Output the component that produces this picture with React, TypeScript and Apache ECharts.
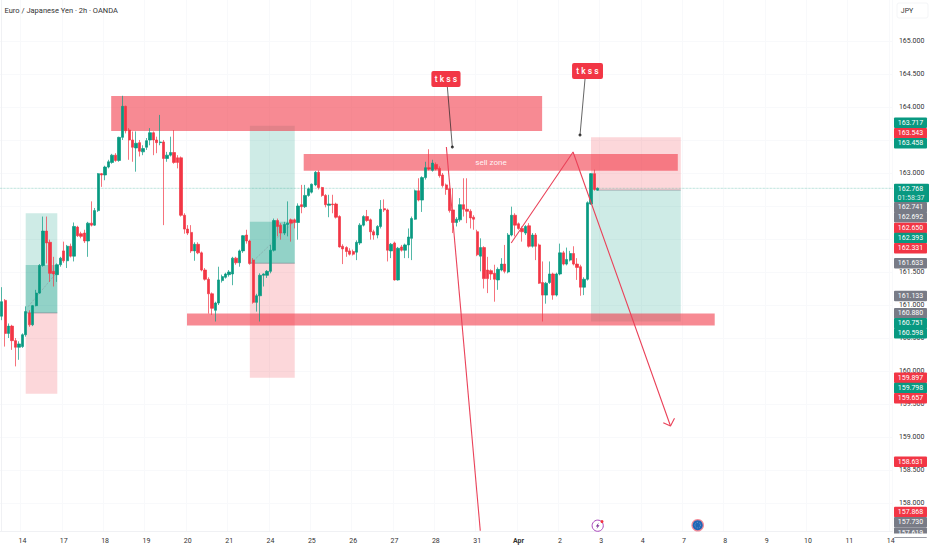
import React, { useEffect, useRef } from "react";
import * as echarts from "echarts";

// Day labels on the time axis: one label every 12 two-hour bars
const dayLabels = ["14","17","18","19","20","21","24","25","26","27","28","31","Apr","2","3","4","7","8","9","10","11","14"];
const priceTicks = [165,164.5,164,163.5,163,162.5,162,161.5,161,160.5,160,159.5,159,158.5,158];
const priceLabels = [165,164.5,164,163,161.5,161,160.5,160,159.5,159,158.5,158];

// [open, close, low, high]
const candles: number[][] = [
[160.83,161.05,160.77,161.27],[161.07,160.57,160.37,161.09],[160.57,160.68,160.50,160.72],[160.68,160.46,160.32,160.70],
[160.46,160.36,160.07,160.50],[160.36,160.41,160.17,160.45],[160.37,160.55,160.35,160.57],[160.55,160.90,160.52,160.98],
[160.88,160.70,160.67,160.92],[160.70,160.99,160.68,161.00],[160.99,161.18,160.98,161.23],[161.18,161.60,161.17,161.62],
[161.60,162.12,161.58,162.34],[162.12,161.94,161.63,162.34],[161.95,161.48,161.35,161.99],[161.51,161.47,161.28,161.73],
[161.46,161.61,161.35,161.63],[161.61,161.71,161.58,161.73],[161.82,161.67,161.64,161.96],[161.67,161.89,161.56,161.91],
[161.89,161.74,161.72,161.93],[161.74,162.19,161.66,162.25],[162.18,162.05,162.03,162.20],[162.08,162.04,162.01,162.11],
[162.09,161.97,161.94,162.14],[161.97,162.24,161.73,162.26],[162.24,162.21,162.19,162.57],[162.21,162.43,162.20,162.47],
[162.43,162.99,162.41,163.00],[162.99,162.97,162.79,163.00],[162.97,163.09,162.89,163.11],[163.09,163.17,163.07,163.20],
[163.16,163.27,163.14,163.29],[163.27,163.19,163.17,163.30],[163.19,163.54,163.17,163.55],[163.54,164.01,163.50,164.17],
[164.01,163.64,163.60,164.02],[163.65,163.50,163.20,163.68],[163.50,163.39,163.17,163.63],[163.38,163.45,163.02,163.63],
[163.46,163.33,163.25,163.50],[163.32,163.37,163.27,163.42],[163.39,163.49,163.35,163.53],[163.50,163.61,163.42,163.68],
[163.61,163.50,163.27,163.63],[163.50,163.46,163.30,163.55],[163.46,163.47,163.42,163.88],[163.47,163.22,162.21,163.50],
[163.22,163.27,163.17,163.32],[163.27,163.31,163.25,163.55],[163.31,163.16,163.14,163.65],[163.23,163.16,163.07,163.27],
[163.23,162.36,162.34,163.25],[162.36,162.15,162.08,162.39],[162.15,162.09,162.06,162.21],[162.10,161.82,161.79,162.21],
[161.82,161.92,161.67,161.95],[161.92,161.79,161.77,161.95],[161.79,161.53,161.51,161.81],[161.53,161.39,161.37,161.56],
[161.39,161.17,160.87,161.42],[161.17,160.95,160.85,161.19],[160.92,161.03,160.75,161.05],[161.03,161.38,161.00,161.58],
[161.37,161.43,161.34,161.46],[161.42,161.47,161.40,161.49],[161.46,161.50,161.43,161.53],[161.47,161.71,161.30,161.73],
[161.71,161.64,161.61,161.73],[161.64,161.82,161.58,161.84],[161.82,162.05,161.79,162.06],[162.06,161.97,161.93,162.14],
[161.97,161.63,161.61,161.99],[161.68,161.04,161.02,161.71],[161.04,161.14,160.90,161.17],[161.14,161.45,160.75,161.48],
[161.45,161.47,161.28,161.48],[161.45,161.51,161.41,161.53],[161.51,161.83,161.48,161.91],[161.83,162.28,161.81,162.31],
[162.28,162.19,162.04,162.31],[162.21,162.09,161.99,162.24],[162.09,162.22,162.06,162.26],[162.22,162.24,162.04,162.57],
[162.29,162.24,161.96,162.31],[162.29,162.25,162.16,162.31],[162.25,162.50,161.99,162.54],[162.52,162.49,162.39,162.82],
[162.49,162.66,162.47,162.82],[162.66,162.76,162.64,162.78],[162.71,162.83,162.69,162.84],[162.82,163.01,162.80,163.03],
[163.01,162.78,162.75,163.04],[162.78,162.66,162.64,162.79],[162.66,162.52,162.48,162.68],[162.51,162.53,162.33,162.67],
[162.53,162.52,162.39,162.67],[162.53,162.33,162.31,162.55],[162.34,161.88,161.87,162.36],[161.89,161.85,161.62,161.92],
[161.87,161.81,161.73,161.89],[161.82,161.77,161.75,161.86],[161.81,161.77,161.75,161.84],[161.80,161.95,161.68,161.98],
[161.94,162.21,161.91,162.24],[162.21,162.34,162.19,162.36],[162.34,162.28,162.26,162.44],[162.29,162.11,161.99,162.31],
[162.11,162.06,161.99,162.14],[162.06,162.19,162.01,162.21],[162.19,162.45,162.16,162.59],[162.46,162.44,162.41,162.60],
[162.44,161.83,161.66,162.46],[161.82,161.92,161.71,161.94],[161.94,161.38,161.37,161.96],[161.38,161.86,161.37,161.88],
[161.88,161.83,161.81,161.91],[161.83,161.91,161.71,161.93],[161.91,162.03,161.71,162.16],[162.01,162.31,161.68,162.34],
[162.30,162.73,162.29,162.75],[162.73,162.59,162.57,162.92],[162.59,162.93,162.41,162.95],[162.93,163.08,162.90,163.17],
[163.08,163.06,163.04,163.36],[163.04,163.15,163.02,163.20],[163.13,163.06,163.04,163.16],[163.07,162.96,162.93,163.10],
[162.97,162.81,162.78,163.00],[162.82,162.75,162.67,162.84],[162.76,162.43,162.40,162.78],[162.44,162.25,162.09,162.77],
[162.25,162.30,162.19,162.33],[162.29,162.52,162.26,162.62],[162.52,162.45,162.34,162.92],[162.45,162.42,162.24,162.92],
[162.42,162.32,162.16,162.45],[162.33,162.30,162.14,162.36],[162.11,161.76,161.74,162.14],[161.74,161.87,161.51,162.01],
[161.87,161.40,161.25,161.89],[161.53,161.40,161.18,161.73],[161.52,161.47,161.38,161.54],[161.48,161.39,161.05,161.61],
[161.38,161.54,161.23,161.57],[161.53,161.62,161.51,161.71],[161.62,161.51,161.48,161.91],[161.50,162.06,161.48,162.09],
[162.06,162.36,162.04,162.49],[162.36,162.21,162.04,162.39],[162.23,162.16,162.14,162.25],[162.16,162.11,161.96,162.19],
[162.09,162.19,162.06,162.21],[162.20,161.89,161.87,162.24],[161.89,162.06,161.87,162.09],[162.06,161.89,161.68,162.09],
[161.91,161.33,161.32,161.93],[161.34,161.15,160.75,161.66],[161.15,161.33,161.02,161.35],[161.34,161.47,161.32,161.66],
[161.47,161.15,161.08,161.49],[161.15,161.47,161.13,161.49],[161.47,161.79,161.45,161.93],[161.79,161.62,161.60,161.82],
[161.62,161.69,161.60,161.87],[161.68,161.78,161.66,161.82],[161.78,161.62,161.60,161.89],[161.62,161.57,161.38,161.71],
[161.58,161.27,161.14,161.61],[161.27,161.39,161.15,161.42],[161.39,162.55,161.37,162.57],[162.53,162.99,162.52,163.00],
[162.99,162.75,162.73,163.05],[162.74,162.77,162.73,162.78],
];
const lastPrice = 162.768;

// Drawn zones: [first bar, last bar, top price, bottom price]
const supplyZones = [[31.77,156.84,164.167,163.636],[87.64,196.22,163.288,163.035],[53.77,206.93,160.871,160.689]];
const targetZones = [[6.96,16.13,162.389,160.880],[72.01,85.04,163.717,161.633],[171.03,197.08,162.741,160.751]];
const stopZones = [[6.96,16.13,160.880,159.657],[72.01,85.04,161.633,159.897],[171.03,197.08,163.543,162.741]];
const filledZones = [[6.96,16.13,161.606,160.880],[72.01,85.04,162.262,161.633]];
const calloutBoxes = [[124.70,133.16,164.545,164.303],[165.53,174.50,164.667,164.424]];
const calloutText = "t k s s";
const sellZoneLabel = [142.0, 163.16, "sell zone"];

// Drawn lines: [bar, price] points
const fallLine = [[129.05,163.394],[138.89,157.58]];
const zigzagLine = [[147.87,161.939],[165.82,163.318],[194.10,159.167]];
const arrowHead = [[192.00,159.217],[194.10,159.167],[195.26,159.283]];
const leaderA = [[129.34,164.303],[130.78,163.394]];
const leaderB = [[169.29,164.424],[167.84,163.576]];
const entryLines = [[[6.96,160.880],[16.13,160.880]],[[72.01,161.633],[85.04,161.633]],[[173.05,162.741],[197.08,162.741]]];
const tradePaths = [[[7.65,160.974],[15.35,161.455]],[[72.31,161.632],[84.37,162.238]]];

// Price tags of the axis, text and kind (top to bottom)
const tagTexts = ["163.717","163.543","163.458","162.741","162.692","162.650","162.393","162.331","161.633","161.133","160.880","160.751","160.598","159.897","159.798","159.657","158.631","157.868","157.730","157.619"];
const tagKinds = ["g","r","g","n","n","r","g","r","n","n","n","g","g","r","g","r","r","r","n","n"];
const tagCentres = [122.7,133.3,143.3,207.3,217.3,228,238,248.3,263.3,296,313.3,323.3,333.3,377.7,388,398.3,461.7,512,522.3,532.7];
const countdown = "01:58:37";

const GREEN = "#089981";
const RED = "#f23645";
const GREY = "#787b86";
const tagFill: Record<string, string> = { g: GREEN, r: RED, n: GREY };

const barCount = 259;
const categories = Array.from({ length: barCount }, (_, i) =>
  i >= 6 && (i - 6) % 12 === 0 ? dayLabels[(i - 6) / 12] : ""
);
const isDayTick = (i: number) => i >= 6 && (i - 6) % 12 === 0;

function zoneSeries(name: string, data: number[][], fill: string, z: number) {
  return {
    type: "custom", name, xAxisIndex: 1, yAxisIndex: 0, z, silent: true, data,
    encode: { x: [0, 1], y: [2, 3] },
    renderItem: (_: any, api: any) => {
      const a = api.coord([api.value(0), api.value(2)]);
      const b = api.coord([api.value(1), api.value(3)]);
      return { type: "rect", shape: { x: a[0], y: a[1], width: b[0] - a[0], height: b[1] - a[1] }, style: { fill } };
    },
  };
}

function lineSeries(data: number[][], color: string, width: number, type: string, z: number) {
  return {
    type: "line", xAxisIndex: 1, yAxisIndex: 0, data, z, silent: true,
    showSymbol: false, symbol: "none",
    lineStyle: { color, width, type },
  };
}

export default function App() {
  const ref = useRef<HTMLDivElement>(null);
  useEffect(() => {
    const chart = echarts.init(ref.current!, undefined, { renderer: "svg" });
    const uiFont = "Roboto, sans-serif";
    const tagEls: any[] = [];
    tagTexts.forEach((t, i) => {
      tagEls.push({ type: "rect", z: 100, shape: { x: 894, y: tagCentres[i] - 5.2, width: 33, height: 10.4, r: 1 }, style: { fill: tagFill[tagKinds[i]] } });
      tagEls.push({ type: "text", z: 101, x: 910.5, y: tagCentres[i], style: { text: t, fill: "#ffffff", font: `7px ${uiFont}`, align: "center", verticalAlign: "middle" } });
    });
    const option: any = {
      animation: false,
      backgroundColor: "#ffffff",
      title: {
        text: "Euro / Japanese Yen · 2h · OANDA", left: 4.5, top: 6, padding: 0,
        textStyle: { fontFamily: uiFont, fontSize: 7.5, fontWeight: 400, color: "#333333" },
      },
      grid: { left: -2.15, right: 39.6, top: 0, bottom: 19, containLabel: false },
      xAxis: [
        {
          type: "category", data: categories, position: "bottom",
          axisLine: { show: true, lineStyle: { color: "#f0f1f4" } },
          axisTick: { show: false },
          axisLabel: {
            interval: (i: number) => isDayTick(i), margin: 6, hideOverlap: false,
            fontFamily: uiFont, fontSize: 7, color: "#333333",
            formatter: (v: string) => (v === "Apr" ? "{b|Apr}" : v),
            rich: { b: { fontFamily: uiFont, fontSize: 7, fontWeight: 700, color: "#333333" } },
          },
          splitLine: { show: true, interval: (i: number) => isDayTick(i), lineStyle: { color: "#f8f9fb", width: 1 } },
        },
        { type: "value", show: false, min: -0.5, max: 258.5, splitLine: { show: false } },
      ],
      yAxis: [
        {
          type: "value", position: "right", min: 157.576, max: 165.621, scale: true,
          axisLine: { show: true, lineStyle: { color: "#f0f1f4" } },
          axisTick: { show: false, customValues: priceTicks },
          axisLabel: {
            customValues: priceLabels, margin: 6.5, fontFamily: uiFont, fontSize: 7, color: "#333333",
            formatter: (v: number) => v.toFixed(3),
          },
          splitLine: { show: true, lineStyle: { color: "#f8f9fb", width: 1 } },
        },
      ],
      series: [
        zoneSeries("target", targetZones, "rgba(8,153,129,0.2)", 1),
        zoneSeries("stop", stopZones, "rgba(242,54,69,0.2)", 1),
        zoneSeries("filled", filledZones, "rgba(8,153,129,0.3)", 1),
        zoneSeries("supply", supplyZones, "rgba(242,54,69,0.58)", 1),
        ...entryLines.map((d) => lineSeries(d, "rgba(120,123,134,0.7)", 0.8, "solid", 2)),
        ...tradePaths.map((d) => lineSeries(d, "rgba(120,123,134,0.55)", 0.6, "dashed", 2)),
        lineSeries([[-0.5, lastPrice], [258.5, lastPrice]], "rgba(8,153,129,0.55)", 0.7, "dotted", 3),
        {
          type: "candlestick", xAxisIndex: 0, yAxisIndex: 0, data: candles, z: 4, silent: true,
          barWidth: 2.8,
          itemStyle: { color: GREEN, color0: RED, borderColor: GREEN, borderColor0: RED, borderWidth: 0.7 },
        },
        lineSeries(fallLine, "#ea4259", 1.1, "solid", 5),
        lineSeries(zigzagLine, "#ea4259", 1.1, "solid", 5),
        lineSeries(arrowHead, "#ea4259", 1.1, "solid", 5),
        lineSeries(leaderA, "#222222", 0.7, "solid", 5),
        lineSeries(leaderB, "#222222", 0.7, "solid", 5),
        {
          type: "scatter", xAxisIndex: 1, yAxisIndex: 0, z: 6, silent: true, symbolSize: 3,
          itemStyle: { color: "#111111" }, data: [leaderA[1], leaderB[1]],
        },
        {
          type: "custom", xAxisIndex: 1, yAxisIndex: 0, z: 6, silent: true, data: calloutBoxes,
          encode: { x: [0, 1], y: [2, 3] },
          renderItem: (_: any, api: any) => {
            const a = api.coord([api.value(0), api.value(2)]);
            const b = api.coord([api.value(1), api.value(3)]);
            return {
              type: "group",
              children: [
                { type: "rect", shape: { x: a[0], y: a[1], width: b[0] - a[0], height: b[1] - a[1], r: 2 }, style: { fill: RED } },
                { type: "text", x: (a[0] + b[0]) / 2, y: (a[1] + b[1]) / 2, style: { text: calloutText, fill: "#ffffff", font: `500 8.5px ${uiFont}`, align: "center", verticalAlign: "middle" } },
              ],
            };
          },
        },
        {
          type: "custom", xAxisIndex: 1, yAxisIndex: 0, z: 6, silent: true, data: [sellZoneLabel.slice(0, 2)],
          encode: { x: 0, y: 1 },
          renderItem: (_: any, api: any) => {
            const a = api.coord([api.value(0), api.value(1)]);
            return { type: "text", x: a[0], y: a[1], style: { text: sellZoneLabel[2] as string, fill: "rgba(255,255,255,0.92)", font: `8px ${uiFont}`, align: "center", verticalAlign: "middle" } };
          },
        },
      ],
      graphic: [
        { type: "rect", z: 99, shape: { x: 897, y: 3, width: 31, height: 15, r: 2 }, style: { fill: "#ffffff", stroke: "#f4f5f7", lineWidth: 1 } },
        { type: "text", z: 101, x: 907, y: 10.7, style: { text: "JPY", fill: "#333333", font: `7px ${uiFont}`, align: "center", verticalAlign: "middle" } },
        { type: "rect", z: 100, shape: { x: 894, y: 183.7, width: 35, height: 18.6, r: 1 }, style: { fill: GREEN } },
        { type: "text", z: 101, x: 910.5, y: 188.8, style: { text: lastPrice.toFixed(3), fill: "#ffffff", font: `7px ${uiFont}`, align: "center", verticalAlign: "middle" } },
        { type: "text", z: 101, x: 911, y: 197.6, style: { text: countdown, fill: "rgba(255,255,255,0.85)", font: `7px ${uiFont}`, align: "center", verticalAlign: "middle" } },
        ...tagEls,
        { type: "rect", z: 102, shape: { x: 893.5, y: 533.6, width: 38, height: 3.6 }, style: { fill: "#ffffff" } },
        { type: "circle", z: 20, shape: { cx: 597.7, cy: 525.7, r: 5.6 }, style: { fill: "#ffffff", stroke: "#ab47bc", lineWidth: 1 } },
        { type: "polygon", z: 21, shape: { points: [[598.8, 522.6], [595.8, 526.4], [597.6, 526.4], [596.6, 529], [599.6, 525.2], [597.8, 525.2]] }, style: { fill: "#7b2f96" } },
        { type: "circle", z: 21, shape: { cx: 602, cy: 521.6, r: 1.5 }, style: { fill: "#f23645" } },
        { type: "circle", z: 20, shape: { cx: 697.7, cy: 525.2, r: 6.3 }, style: { fill: "#f28b98" } },
        { type: "circle", z: 21, shape: { cx: 697.7, cy: 525.2, r: 5 }, style: { fill: "#1f66b5" } },
        { type: "circle", z: 22, shape: { cx: 697.7, cy: 525.2, r: 2.8 }, style: { fill: "none", stroke: "#7fa9d8", lineWidth: 0.8, lineDash: [1, 1] } },
      ],
    };
    chart.setOption(option);
    return () => chart.dispose();
  }, []);
  return <div ref={ref} style={{ position: "fixed", left: 0, top: 0, width: 932, height: 550 }} />;
}
